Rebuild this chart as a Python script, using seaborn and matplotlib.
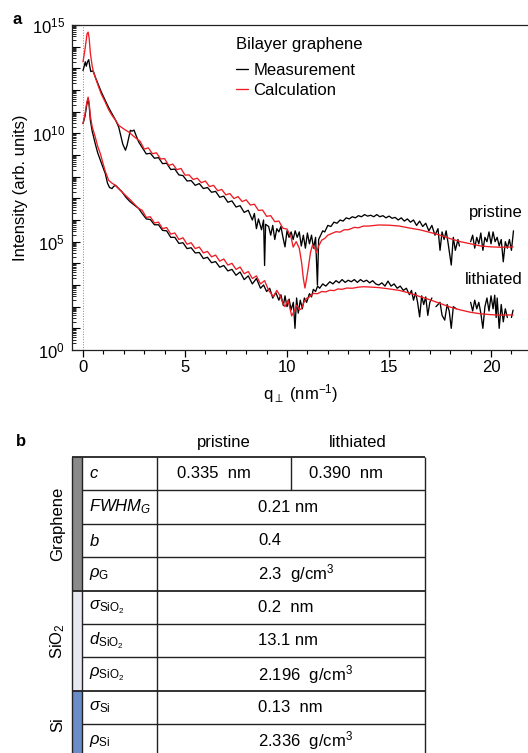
import numpy as np
import pandas as pd
import matplotlib
matplotlib.use('Agg')
import matplotlib.pyplot as plt
from matplotlib.patches import Rectangle
from matplotlib.ticker import FixedLocator, FuncFormatter, LogLocator, MultipleLocator, NullFormatter
import seaborn as sns

nan = np.nan

# ---------------- panel a : reflectivity curves (log10 intensity)
q_pri_calc = [0.0, 0.1, 0.2, 0.25, 0.3, 0.36, 0.45, 0.52, 0.65, 0.77, 0.9, 1.09, 1.25, 1.42, 1.6, 1.75, 2.0, 2.24, 2.5, 2.8,
              3.0, 3.2, 3.4, 3.6, 3.8, 4.0, 4.2, 4.4, 4.6, 4.8, 5.0, 5.2, 5.4, 5.6, 5.8, 6.0, 6.2, 6.4, 6.6, 6.8,
              7.0, 7.2, 7.4, 7.6, 7.8, 8.0, 8.2, 8.4, 8.6, 8.8, 9.0, 9.2, 9.4, 9.6, 9.8, 10.0, 10.2, 10.3, 10.45, 10.6,
              10.72, 10.8, 10.88, 10.96, 11.05, 11.15, 11.25, 11.35, 11.45, 11.55, 11.7, 11.85, 12.0, 12.2, 12.4, 12.6, 12.8, 13.0, 13.3, 13.5,
              13.74, 14.0, 14.5, 15.0, 15.5, 16.0, 16.5, 17.0, 17.5, 18.0, 18.5, 19.0, 19.5, 20.0, 20.5, 21.08]
L_pri_calc = [13.3, 13.9, 14.6, 14.67, 14.4, 13.7, 13.1, 12.8, 12.45, 12.13, 11.8, 11.44, 11.1, 10.83, 10.6, 10.37, 10.2, 10.06, 9.85, 9.63,
              9.27, 9.33, 9.06, 9.10, 8.82, 8.83, 8.52, 8.58, 8.32, 8.38, 8.07, 8.08, 7.87, 7.93, 7.72, 7.80, 7.54, 7.60, 7.35, 7.41,
              7.16, 7.22, 6.99, 7.08, 6.85, 6.93, 6.69, 6.73, 6.44, 6.46, 6.17, 6.20, 5.92, 5.95, 5.62, 5.58, 5.20, 4.75, 5.00, 4.70,
              4.00, 3.30, 2.86, 3.30, 3.84, 4.50, 4.85, 4.70, 4.50, 4.80, 5.07, 5.15, 5.30, 5.38, 5.46, 5.44, 5.55, 5.55, 5.66, 5.64,
              5.72, 5.72, 5.77, 5.76, 5.72, 5.63, 5.55, 5.43, 5.30, 5.14, 5.00, 4.90, 4.80, 4.76, 4.74, 4.76]

q_pri_meas = [0.0, 0.06, 0.11, 0.16, 0.22, 0.28, 0.33, 0.38, 0.45, 0.52, 0.6, 0.77, 0.9, 1.09, 1.25, 1.42, 1.6, 1.75, 1.85, 1.95,
              2.08, 2.16, 2.24, 2.32, 2.4, 2.5, 2.6, 2.73, 2.9, 3.1, 3.3, 3.5, 3.7, 3.9, 4.1, 4.3, 4.5, 4.7, 4.9, 5.1,
              5.3, 5.5, 5.7, 5.9, 6.1, 6.3, 6.5, 6.7, 6.9, 7.1, 7.3, 7.5, 7.7, 7.9, 8.1, 8.3, 8.4, 8.5, 8.6, 8.75,
              8.85, 8.9, 8.95, 9.1, 9.2, 9.3, 9.4, 9.5, 9.6, 9.7, 9.8, 9.9, 10.0, 10.1, 10.2, 10.3, 10.4, 10.5, 10.6, 10.7,
              10.8, 10.9, 11.0, 11.1, 11.2, 11.3, 11.4, 11.49, 11.55, 11.65, 11.75, 11.85, 12.0, 12.15, 12.3, 12.45, 12.6, 12.75, 12.9, 13.05,
              13.2, 13.35, 13.5, 13.65, 13.8, 13.95, 14.1, 14.25, 14.4, 14.55, 14.7, 14.85, 15.0, 15.15, 15.3, 15.45, 15.6, 15.75, 15.9, 16.05,
              16.2, 16.35, 16.5, 16.65, 16.8, 16.95, 17.1, 17.25, 17.4, 17.5, 17.6, 17.7, 17.8, 17.9, 18.05, 18.15, 18.25, 18.38, 18.45, nan,
              19.0, 19.1, 19.2, 19.3, 19.4, 19.5, 19.6, 19.7, 19.8, 19.9, 20.0, 20.1, 20.2, 20.3, 20.4, 20.5, 20.6, 20.7, 20.8, 20.9,
              21.0, 21.1]
L_pri_meas = [12.9, 13.1, 13.3, 13.1, 13.3, 13.4, 13.1, 12.85, 12.88, 12.83, 12.6, 12.21, 11.9, 11.52, 11.2, 10.91, 10.6, 10.29, 9.9, 9.5,
              9.22, 9.45, 9.8, 10.14, 10.1, 10.15, 9.9, 9.6, 9.35, 9.05, 9.08, 8.85, 8.88, 8.6, 8.62, 8.33, 8.35, 8.08, 8.05, 7.8,
              7.82, 7.6, 7.68, 7.45, 7.5, 7.28, 7.32, 7.05, 7.1, 6.82, 6.88, 6.6, 6.66, 6.35, 6.45, 6.0, 6.3, 5.6, 6.05, 5.55,
              6.0, 3.9, 5.8, 5.7, 5.3, 5.75, 5.1, 5.6, 5.45, 5.7, 5.2, 4.76, 5.5, 5.2, 5.45, 5.1, 5.5, 5.2, 5.45, 4.8,
              5.3, 4.7, 5.4, 4.9, 5.3, 4.7, 5.2, 3.0, 5.1, 5.3, 5.5, 5.45, 5.75, 5.7, 5.9, 5.85, 6.0, 5.95, 6.1, 6.05,
              6.15, 6.1, 6.2, 6.15, 6.25, 6.18, 6.22, 6.15, 6.25, 6.15, 6.2, 6.1, 6.18, 6.08, 6.12, 6.0, 6.1, 5.95, 6.05, 5.9,
              6.0, 5.75, 5.95, 5.7, 5.85, 5.5, 5.75, 5.3, 5.6, 4.6, 5.45, 5.1, 5.5, 4.9, 3.92, 5.2, 4.6, 5.1, 4.8, nan,
              5.0, 5.3, 4.7, 5.2, 4.9, 5.4, 4.6, 5.2, 5.0, 5.45, 4.9, 5.45, 5.0, 5.2, 4.8, 5.1, 4.07, 5.0, 4.7, 5.1,
              4.6, 5.5]

q_lit_calc = [0.0, 0.1, 0.18, 0.25, 0.3, 0.36, 0.45, 0.6, 0.72, 0.85, 0.97, 1.09, 1.26, 1.42, 1.59, 1.8, 2.08, 2.3, 2.5, 2.73,
              2.9, 3.1, 3.3, 3.5, 3.7, 3.9, 4.1, 4.3, 4.5, 4.7, 4.9, 5.1, 5.3, 5.5, 5.7, 5.9, 6.1, 6.3, 6.5, 6.7,
              6.9, 7.1, 7.3, 7.5, 7.7, 7.9, 8.1, 8.3, 8.5, 8.7, 8.9, 9.1, 9.33, 9.5, 9.66, 9.78, 9.9, 10.05, 10.23, 10.35,
              10.47, 10.6, 10.7, 10.85, 10.96, 11.1, 11.29, 11.5, 11.7, 11.9, 12.1, 12.3, 12.5, 12.7, 12.93, 13.2, 13.5, 13.74, 14.0, 14.5,
              15.0, 15.5, 16.0, 16.5, 17.0, 17.5, 18.0, 18.5, 19.0, 19.5, 20.0, 20.5, 21.08]
L_lit_calc = [10.45, 10.9, 11.4, 11.67, 11.4, 10.8, 10.3, 9.83, 9.4, 9.06, 8.65, 8.25, 7.83, 7.7, 7.6, 7.4, 7.14, 6.95, 6.75, 6.53,
              6.45, 6.12, 6.15, 5.86, 5.9, 5.6, 5.65, 5.35, 5.4, 5.1, 5.18, 4.88, 4.95, 4.68, 4.75, 4.48, 4.55, 4.3, 4.38, 4.1,
              4.2, 3.92, 4.0, 3.72, 3.83, 3.52, 3.62, 3.3, 3.42, 3.05, 3.2, 2.75, 2.46, 2.75, 2.5, 2.2, 2.0, 2.3, 1.57, 1.8,
              2.07, 1.85, 1.9, 2.25, 2.38, 2.45, 2.61, 2.6, 2.7, 2.68, 2.76, 2.74, 2.82, 2.8, 2.86, 2.85, 2.9, 2.92, 2.91, 2.88,
              2.82, 2.75, 2.63, 2.47, 2.32, 2.15, 1.98, 1.85, 1.74, 1.67, 1.63, 1.61, 1.62]

q_lit_meas = [0.0, 0.1, 0.18, 0.25, 0.3, 0.36, 0.45, 0.6, 0.72, 0.85, 0.97, 1.09, 1.2, 1.3, 1.42, 1.5, 1.59, 1.75, 1.91, 2.1,
              2.3, 2.5, 2.73, 2.9, 3.1, 3.3, 3.5, 3.7, 3.9, 4.1, 4.3, 4.5, 4.7, 4.9, 5.1, 5.3, 5.5, 5.7, 5.9, 6.1,
              6.3, 6.5, 6.7, 6.9, 7.1, 7.3, 7.5, 7.7, 7.9, 8.1, 8.3, 8.5, 8.7, 8.85, 9.0, 9.15, 9.3, 9.45, 9.6, 9.7,
              9.82, 9.9, 10.0, 10.1, 10.2, 10.31, 10.39, 10.47, 10.55, 10.65, 10.75, 10.85, 10.96, 11.1, 11.2, 11.29, 11.4, 11.5, 11.6, 11.75,
              11.9, 12.1, 12.25, 12.4, 12.55, 12.7, 12.85, 13.0, 13.15, 13.3, 13.45, 13.6, 13.75, 13.9, 14.05, 14.2, 14.35, 14.5, 14.65, 14.8,
              14.95, 15.1, 15.25, 15.4, 15.55, 15.7, 15.85, 16.0, 16.1, 16.2, 16.3, 16.4, 16.5, 16.6, 16.7, 16.8, 16.9, 17.0, 17.1, nan,
              17.3, 17.5, 17.6, 17.73, 17.85, 17.95, 18.05, 18.15, 18.3, nan, 19.0, 19.1, 19.2, 19.3, 19.4, 19.5, 19.6, 19.7, 19.8, 19.9,
              20.0, 20.1, 20.18, 20.25, 20.3, 20.4, 20.5, 20.6, 20.7, 20.8, nan, 21.0, 21.08]
L_lit_meas = [10.45, 10.8, 11.3, 11.6, 11.3, 10.6, 10.1, 9.52, 9.1, 8.76, 8.45, 8.15, 7.7, 7.5, 7.45, 7.55, 7.6, 7.45, 7.3, 7.05,
              6.85, 6.7, 6.53, 6.3, 6.05, 6.02, 5.78, 5.78, 5.52, 5.5, 5.2, 5.2, 4.92, 4.95, 4.68, 4.72, 4.48, 4.5, 4.22, 4.28,
              4.03, 4.08, 3.82, 3.9, 3.65, 3.72, 3.45, 3.6, 3.25, 3.42, 3.05, 3.3, 2.85, 3.0, 2.7, 2.85, 2.4, 2.65, 2.3, 2.55,
              2.05, 2.5, 2.0, 2.35, 1.85, 2.2, 1.0, 2.4, 1.7, 2.3, 1.9, 2.4, 2.2, 2.6, 2.45, 2.8, 2.7, 2.95, 2.85, 3.05,
              2.95, 3.15, 3.05, 3.2, 3.1, 3.25, 3.12, 3.22, 3.15, 3.25, 3.12, 3.25, 3.15, 3.22, 3.1, 3.2, 3.05, 3.0, 3.1, 2.95,
              3.18, 2.95, 3.05, 2.85, 2.95, 2.75, 2.85, 2.55, 2.75, 2.3, 2.65, 2.2, 1.53, 2.5, 2.1, 2.45, 1.6, 2.2, 2.4, nan,
              2.0, 2.2, 1.6, 1.38, 2.1, 1.8, 1.0, 2.0, 1.9, nan, 2.2, 1.8, 2.3, 1.9, 2.2, 1.7, 1.0, 2.0, 2.4, 1.8,
              2.5, 1.9, 2.53, 1.5, 2.4, 1.0, 2.1, 1.3, 1.9, 1.5, nan, 1.5, 1.84]

# ---------------- panel b : fit parameters
row_labels = [r'$c$', r'$FWHM_G$', r'$b$', r'$\rho_{\mathrm{G}}$',
              r'$\sigma_{\mathrm{SiO_2}}$', r'$d_{\mathrm{SiO_2}}$', r'$\rho_{\mathrm{SiO_2}}$',
              r'$\sigma_{\mathrm{Si}}$', r'$\rho_{\mathrm{Si}}$']
pristine_vals = ['0.335  nm', '0.21 nm', '0.4', '2.3  g/cm$^3$', '0.2  nm', '13.1 nm',
                 '2.196  g/cm$^3$', '0.13  nm', '2.336  g/cm$^3$']
lithiated_vals = ['0.390  nm', '0.21 nm', '0.4', '2.3  g/cm$^3$', '0.2  nm', '13.1 nm',
                  '2.196  g/cm$^3$', '0.13  nm', '2.336  g/cm$^3$']
group_names = ['Graphene', 'SiO$_2$', 'Si']
group_sizes = [4, 3, 2]
group_colors = ['#8a8a8a', '#e8e8f0', '#6a8cc8']


def curve(q, L, kind, sample):
    q = np.asarray(q, float)
    L = np.asarray(L, float)
    seg = np.cumsum(np.isnan(L))
    d = pd.DataFrame({'q': q, 'I': 10 ** L, 'kind': kind,
                      'unit': [sample + '-' + kind + '-' + str(s) for s in seg]})
    return d.dropna()


df = pd.concat([curve(q_pri_meas, L_pri_meas, 'Measurement', 'pristine'),
                curve(q_lit_meas, L_lit_meas, 'Measurement', 'lithiated'),
                curve(q_pri_calc, L_pri_calc, 'Calculation', 'pristine'),
                curve(q_lit_calc, L_lit_calc, 'Calculation', 'lithiated')], ignore_index=True)

sns.set_theme(style='ticks')
plt.rcParams['font.family'] = ['Liberation Sans', 'DejaVu Sans']
plt.rcParams['mathtext.fontset'] = 'custom'
plt.rcParams['mathtext.rm'] = 'Liberation Sans'
plt.rcParams['mathtext.it'] = 'Liberation Sans:italic'
plt.rcParams['mathtext.bf'] = 'Liberation Sans:bold'
plt.rcParams['font.size'] = 12
for key in ['text.color', 'axes.labelcolor', 'xtick.color', 'ytick.color']:
    plt.rcParams[key] = 'black'

W, H = 528, 753
fig = plt.figure(figsize=(W / 100, H / 100), dpi=100)


def fx(px):
    return px / W


def fy(py):
    return 1 - py / H


ax = fig.add_axes([fx(72), fy(350), (530 - 72) / W, 325 / H])
ax.set_yscale('log')
sns.lineplot(data=df, x='q', y='I', hue='kind', hue_order=['Measurement', 'Calculation'],
             palette=['black', '#ee1c24'], units='unit', estimator=None, lw=0.95, ax=ax)

ax.axvline(0, color='#888888', lw=0.7, ls=':', zorder=0)
ax.set_xlim(-0.54, 21.91)
ax.set_ylim(1, 1e15)
ax.spines['right'].set_visible(False)
for s in ['left', 'bottom', 'top']:
    ax.spines[s].set_color('#222222')
    ax.spines[s].set_linewidth(0.9)

ax.xaxis.set_major_locator(FixedLocator([0, 5, 10, 15, 20]))
ax.xaxis.set_minor_locator(MultipleLocator(1))
ax.yaxis.set_major_locator(FixedLocator([10.0 ** k for k in range(16)]))
ax.yaxis.set_major_formatter(FuncFormatter(
    lambda v, p: r'$10^{%d}$' % round(np.log10(v)) if round(np.log10(v)) % 5 == 0 else ''))
ax.yaxis.set_minor_locator(LogLocator(base=10, subs=np.arange(2, 10), numticks=200))
ax.yaxis.set_minor_formatter(NullFormatter())
ax.tick_params(axis='x', which='major', direction='out', length=5, width=0.9, labelsize=12, pad=2, top=False)
ax.tick_params(axis='x', which='minor', direction='out', length=3, width=0.8, top=False)
ax.tick_params(axis='y', which='major', direction='in', length=6, width=0.8, labelsize=12, pad=5)
ax.tick_params(axis='y', which='minor', direction='in', length=3, width=0.6)

ax.set_xlabel(r'q$_{\perp}$ (nm$^{-1}$)', fontsize=12, labelpad=5)
ax.set_ylabel('Intensity (arb. units)', fontsize=12, labelpad=3)

ax.text(21.57, 10 ** 6.36, 'pristine', ha='right', va='center', fontsize=12)
ax.text(21.57, 10 ** 3.27, 'lithiated', ha='right', va='center', fontsize=12)

h, l = ax.get_legend_handles_labels()
ax.legend(h, l, frameon=False, loc='upper left', bbox_to_anchor=(fx(236), fy(63)),
          bbox_transform=fig.transFigure, borderpad=0, borderaxespad=0, handlelength=0.7,
          handletextpad=0.35, labelspacing=0.3, fontsize=12)
fig.text(fx(236), fy(44), 'Bilayer graphene', ha='left', va='center', fontsize=12)

# ---------------- table
tab = fig.add_axes([0, 0, 1, 1])
tab.set_xlim(0, W)
tab.set_ylim(H, 0)
tab.axis('off')

fig.text(fx(17), fy(19), 'a', ha='center', va='center', fontsize=12, fontweight='bold')
fig.text(fx(21), fy(442), 'b', ha='center', va='center', fontsize=12, fontweight='bold')

x_left, x_bar, x_name, x_split, x_right = 72, 82, 157, 291, 425
y_top, row_h = 457, 33.4
n_rows = len(row_labels)
line_kw = dict(color='#222222', lw=1.0, solid_capstyle='butt')

tab.text((x_name + x_split) / 2, 442, 'pristine', ha='center', va='center', fontsize=12)
tab.text((x_split + x_right) / 2, 442, 'lithiated', ha='center', va='center', fontsize=12)

start = 0
bounds = [0]
for name, n, col in zip(group_names, group_sizes, group_colors):
    y0 = y_top + start * row_h
    tab.add_patch(Rectangle((x_left, y0), x_bar - x_left, n * row_h, facecolor=col,
                            edgecolor='none'))
    tab.text(58, y0 + n * row_h / 2, name, rotation=90, ha='center', va='center', fontsize=12)
    start += n
    bounds.append(start)

for i in range(n_rows + 1):
    y = y_top + i * row_h
    x0 = x_left if i in bounds else x_bar
    tab.plot([x0, x_right], [y, y], **dict(line_kw, lw=1.3 if i in bounds else 1.0))
y_bot = y_top + n_rows * row_h
for x in [x_left, x_bar, x_name, x_right]:
    tab.plot([x, x], [y_top, y_bot], **line_kw)

for i in range(n_rows):
    yc = y_top + (i + 0.5) * row_h
    tab.text(x_bar + 7, yc, row_labels[i], ha='left', va='center', fontsize=12)
    if pristine_vals[i] == lithiated_vals[i]:
        tab.text(x_name + 101, yc, pristine_vals[i], ha='left', va='center', fontsize=12)
    else:
        tab.plot([x_split, x_split], [yc - row_h / 2, yc + row_h / 2], **line_kw)
        tab.text(x_name + 20, yc, pristine_vals[i], ha='left', va='center', fontsize=12)
        tab.text(x_split + 18, yc, lithiated_vals[i], ha='left', va='center', fontsize=12)

fig.savefig('out.png', dpi=100)
